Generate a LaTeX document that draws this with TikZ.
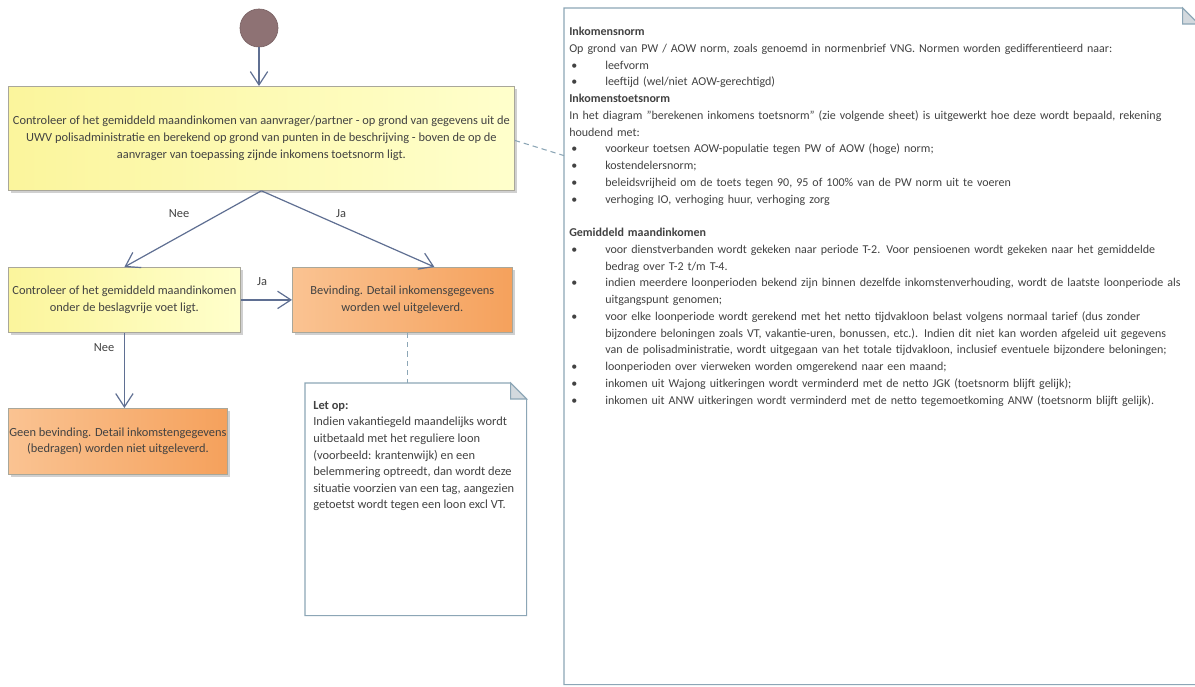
\documentclass[tikz,border=0pt]{standalone}
\usepackage{fontspec}
\setmainfont{Carlito}
\usetikzlibrary{arrows.meta,shadows,calc}
\definecolor{linec}{HTML}{5F6F92}
\definecolor{yelA}{HTML}{FBF59C}
\definecolor{yelB}{HTML}{FFFFCC}
\definecolor{orA}{HTML}{FAC392}
\definecolor{orB}{HTML}{F5A15C}
\definecolor{boxborder}{HTML}{A9A79A}
\definecolor{notec}{HTML}{8CA6B6}
\definecolor{foldc}{HTML}{D3D9DE}
\definecolor{txt}{HTML}{424242}
\definecolor{startc}{HTML}{8E7274}
\newcommand\bul{\makebox[27pt][l]{\hspace{1.5pt}\textbullet}}
\newcommand\ind{\hspace*{27pt}}
\tikzset{
  boxbase/.style={draw=boxborder, line width=0.6pt, anchor=north west, inner sep=0pt,
    align=center, text=txt, font=\fontsize{9.3}{12.5}\selectfont,
    drop shadow={shadow xshift=2pt, shadow yshift=-2pt, opacity=0.3, fill=black!60}},
  ybox/.style={boxbase, left color=yelA, right color=yelB},
  obox/.style={boxbase, left color=orA, right color=orB},
  conn/.style={draw=linec, line width=0.9pt, -{Straight Barb[length=10pt,width=13pt]}},
  dconn/.style={draw=notec, line width=0.8pt, dash pattern=on 4pt off 3pt},
  lbl/.style={text=txt, font=\fontsize{9.3}{12.5}\selectfont, inner sep=0pt},
  notebody/.style={anchor=north west, inner sep=0pt},
  noteline/.style={draw=notec, line width=0.8pt, fill=white},
  notetext/.style={anchor=north west, inner sep=0pt, align=left, text=txt},
}
\begin{document}
\begin{tikzpicture}[x=0.75pt,y=-0.75pt]
\useasboundingbox (0,0) rectangle (1195,686);
\fill[white] (0,0) rectangle (1195,686);
% start
\node[circle, fill=startc, draw=startc!85!black, line width=0.5pt, minimum size=38*0.75pt, inner sep=0pt] (start) at (259,28) {};
% boxes
\node[ybox, minimum width=506*0.75pt, minimum height=104*0.75pt] (b1) at (8,86)
 {Controleer of het gemiddeld maandinkomen van aanvrager/partner - op grond van gegevens uit de\\
  UWV polisadministratie en berekend op grond van punten in de beschrijving - boven de op de\\
  aanvrager van toepassing zijnde inkomens toetsnorm ligt.};
\node[ybox, minimum width=232*0.75pt, minimum height=65*0.75pt] (b2) at (8,267)
 {Controleer of het gemiddeld maandinkomen\\ onder de beslagvrije voet ligt.};
\node[obox, minimum width=220*0.75pt, minimum height=65*0.75pt] (b3) at (292,267)
 {Bevinding. Detail inkomensgegevens\\ worden wel uitgeleverd.};
\node[obox, minimum width=219*0.75pt, minimum height=66*0.75pt] (b4) at (8,408)
 {Geen bevinding. Detail inkomstengegevens\\ (bedragen) worden niet uitgeleverd.};
% small note
\node[notebody, minimum width=221*0.75pt, minimum height=232*0.75pt] (n1) at (305,383) {};
\draw[noteline] (n1.north west) -- ([xshift=-12pt]n1.north east) -- ([yshift=-12pt]n1.north east) -- (n1.south east) -- (n1.south west) -- cycle;
\filldraw[draw=notec, fill=foldc, line width=0.8pt] ([xshift=-12pt]n1.north east) -- ([xshift=-12pt,yshift=-12pt]n1.north east) -- ([yshift=-12pt]n1.north east) -- cycle;
\node[notetext, font=\fontsize{9.3}{12.45}\selectfont] (n1t) at (313,401)
 {\textbf{Let op:}\\
  Indien vakantiegeld maandelijks wordt\\
  uitbetaald met het reguliere loon\\
  (voorbeeld: krantenwijk) en een\\
  belemmering optreedt, dan wordt deze\\
  situatie voorzien van een tag, aangezien\\
  getoetst wordt tegen een loon excl VT.};
% big note
\node[notebody, minimum width=634*0.75pt, minimum height=676*0.75pt] (n2) at (564,8) {};
\draw[noteline] (n2.north west) -- ([xshift=-12pt]n2.north east) -- ([yshift=-12pt]n2.north east) -- (n2.south east) -- (n2.south west) -- cycle;
\filldraw[draw=notec, fill=foldc, line width=0.8pt] ([xshift=-12pt]n2.north east) -- ([xshift=-12pt,yshift=-12pt]n2.north east) -- ([yshift=-12pt]n2.north east) -- cycle;
\node[notetext, text width=625*0.75pt, font=\fontsize{9}{12.56}\selectfont] (n2t) at (569,27)
 {\textbf{Inkomensnorm}\\
  Op grond van PW / AOW norm, zoals genoemd in normenbrief VNG. Normen worden gedifferentieerd naar:\\
  \bul leefvorm\\
  \bul leeftijd (wel/niet AOW-gerechtigd)\\
  \textbf{Inkomenstoetsnorm}\\
  In het diagram "berekenen inkomens toetsnorm" (zie volgende sheet) is uitgewerkt hoe deze wordt bepaald, rekening\\
  houdend met:\\
  \bul voorkeur toetsen AOW-populatie tegen PW of AOW (hoge) norm;\\
  \bul kostendelersnorm;\\
  \bul beleidsvrijheid om de toets tegen 90, 95 of 100\% van de PW norm uit te voeren\\
  \bul verhoging IO, verhoging huur, verhoging zorg\\[12.56pt]
  \textbf{Gemiddeld maandinkomen}\\
  \bul voor dienstverbanden wordt gekeken naar periode T-2. Voor pensioenen wordt gekeken naar het gemiddelde\\
  \ind bedrag over T-2 t/m T-4.\\
  \bul indien meerdere loonperioden bekend zijn binnen dezelfde inkomstenverhouding, wordt de laatste loonperiode als\\
  \ind uitgangspunt genomen;\\
  \bul voor elke loonperiode wordt gerekend met het netto tijdvakloon belast volgens normaal tarief (dus zonder\\
  \ind bijzondere beloningen zoals VT, vakantie-uren, bonussen, etc.). Indien dit niet kan worden afgeleid uit gegevens\\
  \ind van de polisadministratie, wordt uitgegaan van het totale tijdvakloon, inclusief eventuele bijzondere beloningen;\\
  \bul loonperioden over vierweken worden omgerekend naar een maand;\\
  \bul inkomen uit Wajong uitkeringen wordt verminderd met de netto JGK (toetsnorm blijft gelijk);\\
  \bul inkomen uit ANW uitkeringen wordt verminderd met de netto tegemoetkoming ANW (toetsnorm blijft gelijk).};
% connectors
\draw[conn] (start) -- (start |- b1.north);
\draw[conn] (b1.south) -- (b2.north);
\draw[conn] (b1.south) -- ([xshift=24pt]b3.north);
\draw[conn] (b2.east) -- (b3.west);
\draw[conn] (b2.south) -- (b2.south |- b4.north);
\coordinate (d1) at ([xshift=3.75pt]b3.south);
\draw[dconn] (d1) -- (d1 |- n1.north);
\draw[dconn] ([yshift=-1.5pt]b1.east) -- ([yshift=143pt]n2.west);
% labels
\node[lbl] (lnee1) at (179,214) {Nee};
\node[lbl] (lja1) at (341,214) {Ja};
\node[lbl] (lja2) at (262,282) {Ja};
\node[lbl] (lnee2) at (104,348) {Nee};
\end{tikzpicture}
\end{document}
